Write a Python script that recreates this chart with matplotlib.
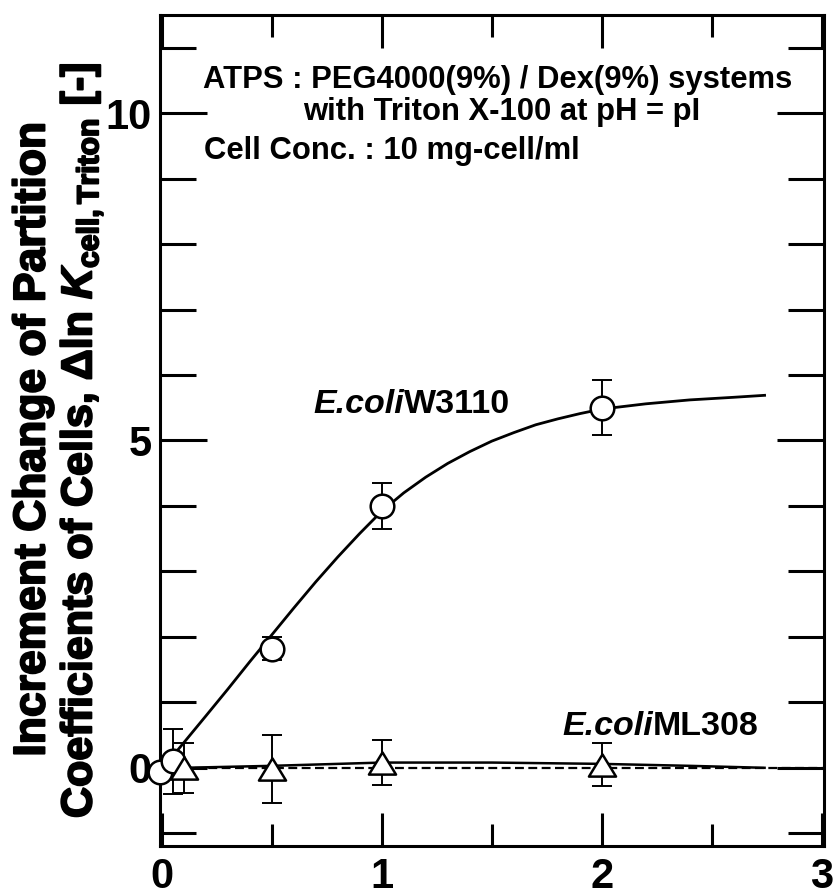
import matplotlib.pyplot as plt
import matplotlib.patheffects as pe
from matplotlib.path import Path

plt.rcParams['font.family'] = ['Liberation Sans', 'DejaVu Sans']
plt.rcParams['font.weight'] = 'bold'
plt.rcParams['mathtext.fontset'] = 'custom'
plt.rcParams['mathtext.rm'] = 'Liberation Sans:bold'
plt.rcParams['mathtext.it'] = 'Liberation Sans:italic:bold'

# E. coli W3110 (open circles) with error bars
w3110_x = [-0.01, 0.05, 0.5, 1.0, 2.0]
w3110_y = [-0.07, 0.10, 1.82, 4.00, 5.50]
w3110_err = [0.0, 0.50, 0.18, 0.35, 0.42]

# fitted curve through W3110
w3110_fit_x = [0.06, 0.2, 0.3, 0.4, 0.5, 0.6, 0.7, 0.8, 0.9, 1.0, 1.1, 1.2,
               1.3, 1.4, 1.5, 1.6, 1.7, 1.8, 1.9, 2.0, 2.2, 2.4, 2.6, 2.74]
w3110_fit_y = [0.22, 0.79, 1.20, 1.62, 2.03, 2.44, 2.84, 3.22, 3.58, 3.92,
               4.20, 4.44, 4.65, 4.83, 4.99, 5.12, 5.24, 5.33, 5.41, 5.48,
               5.56, 5.62, 5.66, 5.69]

# E. coli ML308 (open triangles)
ml308_x = [0.1, 0.5, 1.0, 2.0]
ml308_y = [0.00, -0.02, 0.08, 0.05]
ml308_err = [0.38, 0.52, 0.35, 0.33]

ml308_fit_x = [0.10, 0.50, 1.00, 1.50, 2.00, 2.40, 2.74]
ml308_fit_y = [0.00, 0.03, 0.08, 0.08, 0.06, 0.03, 0.00]

# reference line at zero
zero_x = [0.15, 3.01]
zero_y = [0.0, 0.0]

x_major = [0, 1, 2, 3]
y_major = [0, 5, 10]

fig = plt.figure(figsize=(8.35, 8.92), dpi=100)
ax = fig.add_axes([0.1916, 0.0519, 0.7952, 0.9313])

ax.plot(zero_x, zero_y, color='black', lw=1.6, ls=(0, (4, 2)), zorder=1)
ax.plot(w3110_fit_x, w3110_fit_y, color='black', lw=2.0, zorder=2)
ax.plot(ml308_fit_x, ml308_fit_y, color='black', lw=1.8, zorder=2)

ax.errorbar(w3110_x, w3110_y, yerr=w3110_err, fmt='none', ecolor='black',
            elinewidth=1.4, capsize=7, capthick=1.4, zorder=3)
ax.errorbar(ml308_x, ml308_y, yerr=ml308_err, fmt='none', ecolor='black',
            elinewidth=1.4, capsize=7, capthick=1.4, zorder=3)

ax.plot(w3110_x, w3110_y, 'o', ms=17, mfc='white', mec='black', mew=1.8,
        zorder=4, clip_on=False)
tri = Path([(0, 0.82), (-1, -0.82), (1, -0.82), (0, 0.82)], closed=True)
ax.plot(ml308_x, ml308_y, marker=tri, ls='none', ms=19.5, mfc='white',
        mec='black', mew=1.8, zorder=4, clip_on=False)

ax.set_xlim(-0.008, 3.01)
ax.set_ylim(-1.19, 11.5)
ax.set_xticks(x_major)
ax.set_xticks([0.5, 1.5, 2.5], minor=True)
ax.set_yticks(y_major)
ax.set_yticks([v for v in range(-1, 12) if v % 5 != 0], minor=True)

ax.tick_params(which='both', direction='in', top=True, right=True,
               width=2.2, labelsize=30)
ax.tick_params(axis='x', which='major', length=24, pad=8)
ax.tick_params(axis='x', which='minor', length=16)
ax.tick_params(axis='y', which='major', length=34, pad=6)
ax.tick_params(axis='y', which='minor', length=26)
for s in ax.spines.values():
    s.set_linewidth(2.2)

# condition box
ax.text(0.188, 10.38, 'ATPS : PEG4000(9%) / Dex(9%) systems', fontsize=22.3,
        ha='left', va='baseline')
ax.text(1.545, 9.89, 'with Triton X-100 at pH = pI', fontsize=22.3,
        ha='center', va='baseline')
ax.text(0.192, 9.30, 'Cell Conc. : 10 mg-cell/ml', fontsize=22.3,
        ha='left', va='baseline')

# strain labels: italic species + upright strain name
t1 = ax.text(0.688, 5.42, 'E.coli', fontsize=24.5, style='italic',
             ha='left', va='baseline')
ax.annotate('W3110', xy=(1, 0), xycoords=t1, fontsize=24.5,
            ha='left', va='bottom')
t2 = ax.text(1.82, 0.50, 'E.coli', fontsize=24.5, style='italic',
             ha='left', va='baseline')
ax.annotate('ML308', xy=(1, 0), xycoords=t2, fontsize=24.5,
            ha='left', va='bottom')

# two-line y label
heavy = [pe.withStroke(linewidth=1.4, foreground='black')]
fig.text(33 / 835, 1 - 439 / 892, 'Increment Change of Partition',
         rotation=90, ha='center', va='center', fontsize=32,
         path_effects=heavy)
fig.text(82 / 835, 1 - 441 / 892,
         r'Coefficients of Cells, Δln $\mathit{K}_{\mathrm{cell,Triton}}$ [-]',
         rotation=90, ha='center', va='center', fontsize=31,
         path_effects=heavy)

fig.savefig('out.png', dpi=100)
